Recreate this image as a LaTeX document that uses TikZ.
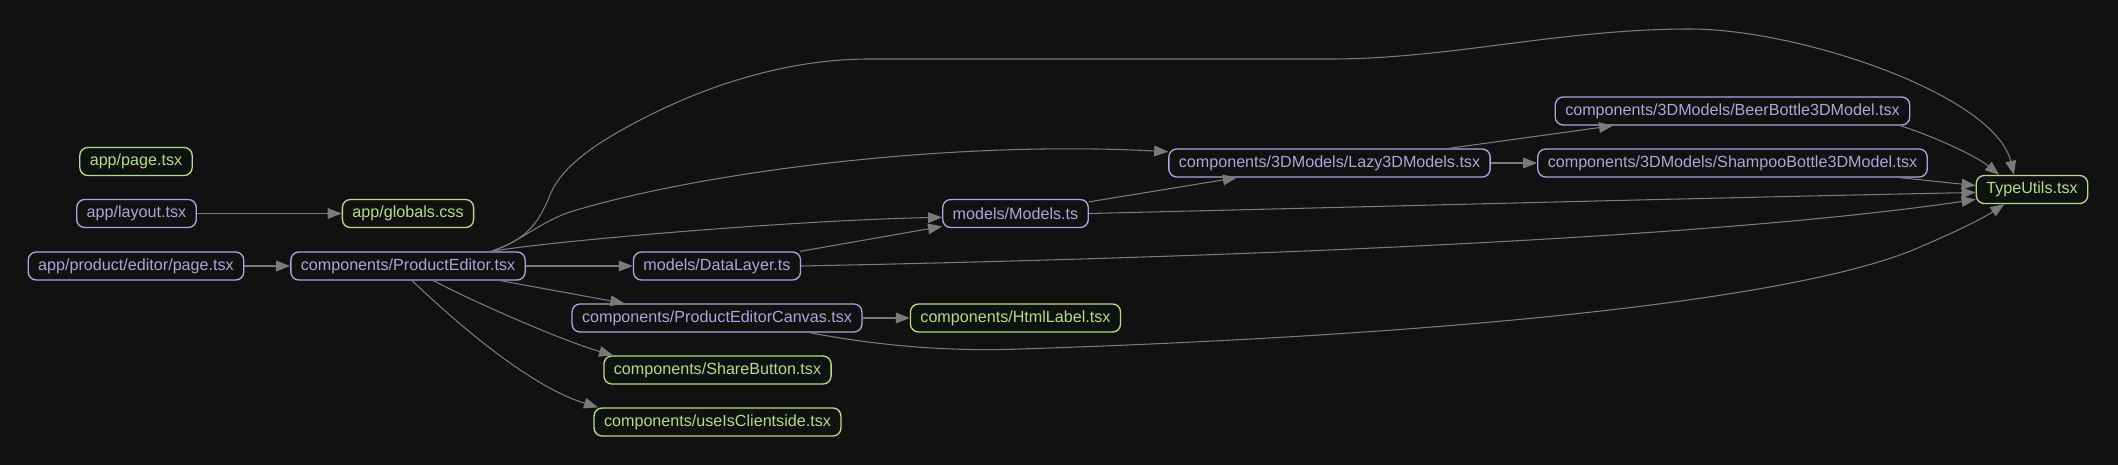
\documentclass[tikz,border=0pt]{standalone}
\usepackage{fontspec}
\setmainfont{Liberation Sans}
\usepackage{tikz}
\usetikzlibrary{positioning, arrows.meta}

\definecolor{bgdark}{HTML}{111111}
\definecolor{edgegray}{HTML}{7A7A7A}
\definecolor{srcpurple}{HTML}{A8A8DC}
\definecolor{leafgreen}{HTML}{B5DC8C}

\begin{document}
\begin{tikzpicture}[x=0.75pt, y=-0.75pt,
        nodes={draw, rounded corners=6pt, minimum height=21pt, inner xsep=7.5pt, line width=1pt,
            font=\fontsize{12.1}{14}\selectfont},
        srcnode/.style={draw=srcpurple, text=srcpurple},
        leafnode/.style={draw=leafgreen, text=leafgreen},
        dep/.style={-{Triangle[length=10.5pt, width=8pt]}, edgegray, line width=0.8pt}]
        \fill[bgdark] (0,0) rectangle (2118,465);
        \useasboundingbox (0,0) rectangle (2118,465);

        \node[leafnode] (page) at (136,161.5) {app/page.tsx};
        \node[srcnode] (layout) at (136.5,213.5) {app/layout.tsx};
        \node[leafnode] (globals) at (408,213.5) {app/globals.css};
        \node[srcnode] (editorpage) at (136,266) {app/product/editor/page.tsx};
        \node[srcnode] (editor) at (408,266) {components/ProductEditor.tsx};
        \node[srcnode] (datalayer) at (717,266) {models/DataLayer.ts};
        \node[srcnode] (canvas) at (717,318) {components/ProductEditorCanvas.tsx};
        \node[leafnode] (share) at (717.5,370) {components/ShareButton.tsx};
        \node[leafnode] (clientside) at (717.5,422) {components/useIsClientside.tsx};
        \node[srcnode] (models) at (1015.5,213.5) {models/Models.ts};
        \node[leafnode] (htmllabel) at (1015.5,318) {components/HtmlLabel.tsx};
        \node[srcnode] (lazy) at (1329.5,163) {components/3DModels/Lazy3DModels.tsx};
        \node[srcnode] (beer) at (1732.5,111) {components/3DModels/BeerBottle3DModel.tsx};
        \node[srcnode] (shampoo) at (1732.5,163) {components/3DModels/ShampooBottle3DModel.tsx};
        \node[leafnode] (typeutils) at (2032,189.5) {TypeUtils.tsx};

        \draw[dep] (layout) -- (globals);
        \draw[dep] (editorpage) -- (editor);
        \draw[dep] (editor) -- (datalayer);
        \draw[dep] (editor.-9) -- (canvas.171);
        \draw[dep] (editor.-30) .. controls (470,300) and (560,340) .. (share.172);
        \draw[dep] (editor.-74) .. controls (445,312) and (525,385) .. (clientside.173.2);
        \draw[dep] (editor.10) .. controls (560,240) and (800,220) .. (models.183);
        \draw[dep] (editor.10) .. controls (520,242) and (540,222) .. (570,212)
            .. controls (700,172) and (950,140) .. (lazy.176);
        \draw[dep] (editor.10) .. controls (525,240) and (538,225) .. (550,195)
            .. controls (562,165) and (600,140) .. (650,115)
            .. controls (700,90) and (780,59) .. (870,59) -- (1330,59)
            .. controls (1450,59) and (1560,29) .. (1690,29)
            .. controls (1800,29) and (1995,95) .. (typeutils.141);
        \draw[dep] (datalayer.10) -- (models.190);
        \draw[dep] (datalayer.east) .. controls (1200,258) and (1700,240) .. (typeutils.190);
        \draw[dep] (models.9) -- (lazy.189);
        \draw[dep] (models.east) .. controls (1400,206) and (1700,198) .. (typeutils.183);
        \draw[dep] (lazy.7) -- (beer.187);
        \draw[dep] (lazy) -- (shampoo);
        \draw[dep] (beer.-5.3) .. controls (1930,135) and (1975,155) .. (typeutils.156);
        \draw[dep] (shampoo.-5) -- (typeutils.176);
        \draw[dep] (canvas) -- (htmllabel);
        \draw[dep] (canvas.-9) .. controls (870,344) and (940,352) .. (1020,349)
            .. controls (1450,335) and (1800,300) .. (1920,247)
            .. controls (1955,232) and (1980,220) .. (typeutils.208);
    \end{tikzpicture}
\end{document}
